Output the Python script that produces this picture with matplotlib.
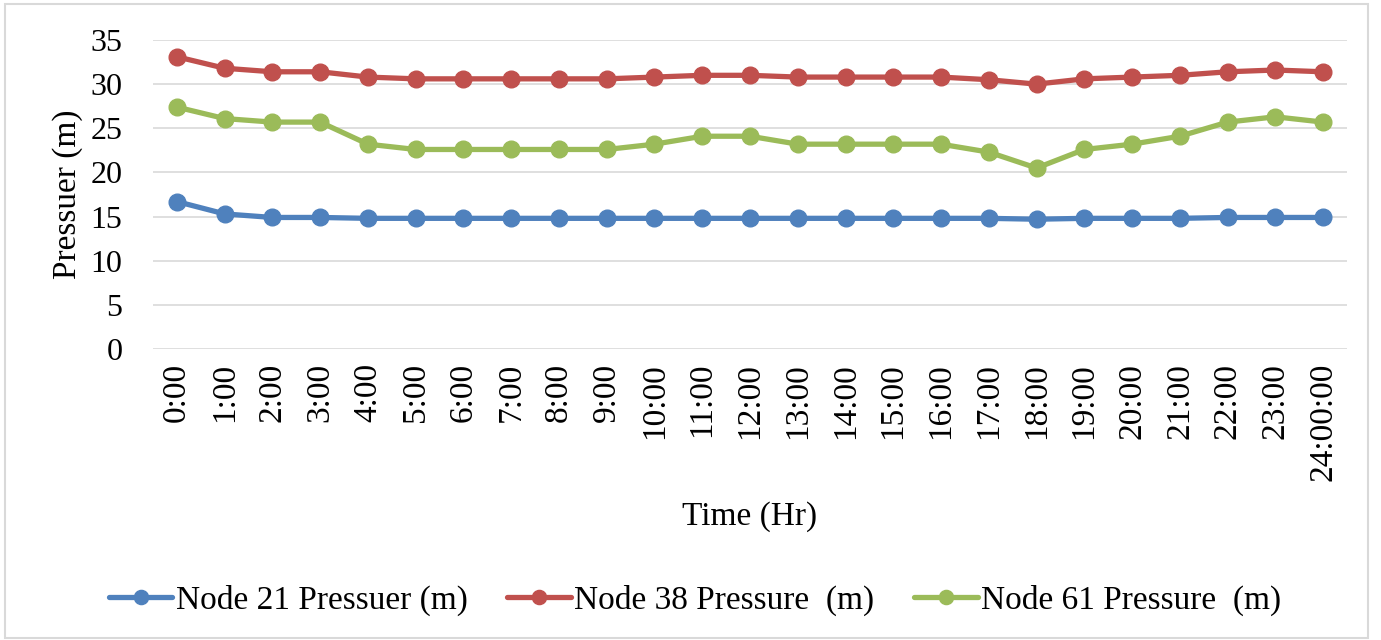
import matplotlib
matplotlib.use("Agg")
import matplotlib.pyplot as plt
from matplotlib.patches import Rectangle

times = ["0:00", "1:00", "2:00", "3:00", "4:00", "5:00", "6:00", "7:00", "8:00", "9:00",
         "10:00", "11:00", "12:00", "13:00", "14:00", "15:00", "16:00", "17:00", "18:00",
         "19:00", "20:00", "21:00", "22:00", "23:00", "24:00:00"]
node21 = [16.7, 15.3, 14.9, 14.9, 14.8, 14.8, 14.8, 14.8, 14.8, 14.8, 14.8, 14.8, 14.8,
          14.8, 14.8, 14.8, 14.8, 14.8, 14.7, 14.8, 14.8, 14.8, 14.9, 14.9, 14.9]
node38 = [33.1, 31.8, 31.4, 31.4, 30.8, 30.6, 30.6, 30.6, 30.6, 30.6, 30.8, 31.0, 31.0,
          30.8, 30.8, 30.8, 30.8, 30.5, 30.0, 30.6, 30.8, 31.0, 31.4, 31.6, 31.4]
node61 = [27.4, 26.1, 25.7, 25.7, 23.2, 22.6, 22.6, 22.6, 22.6, 22.6, 23.2, 24.1, 24.1,
          23.2, 23.2, 23.2, 23.2, 22.3, 20.5, 22.6, 23.2, 24.1, 25.7, 26.3, 25.7]
labels = ["Node 21 Pressuer (m)", "Node 38 Pressure  (m)", "Node 61 Pressure  (m)"]
colors = ["#4F81BD", "#C0504D", "#9BBB59"]
yticks = [0, 5, 10, 15, 20, 25, 30, 35]

plt.rcParams['font.family'] = ['Liberation Serif', 'DejaVu Serif']
FS = 24

W, H = 1381, 640
fig = plt.figure(figsize=(W / 100, H / 100), dpi=100)
fig.patches.append(Rectangle((5 / W, 2 / H), 1363 / W, 634 / H, transform=fig.transFigure,
                             fill=False, edgecolor="#D9D9D9", linewidth=1.5))

left, right = 153 / W, 1347 / W
bottom, top = 1 - 349 / H, 1 - 40 / H
ax = fig.add_axes([left, bottom, right - left, top - bottom])

x = list(range(len(times)))
for series, lab, c in zip([node21, node38, node61], labels, colors):
    ax.plot(x, series, color=c, linewidth=3.8, marker="o", markersize=12, label=lab,
            solid_capstyle="round")

ax.set_xlim(-0.5, len(times) - 0.5)
ax.set_ylim(0, 35)
ax.set_yticks(yticks)
ax.set_xticks(x)
ax.set_xticklabels(times, rotation=90, fontsize=FS)
ax.tick_params(axis="y", labelsize=FS - 1, length=0, pad=22)
ax.tick_params(axis="x", length=0, pad=10)
ax.grid(axis="y", color="#D9D9D9", linewidth=1.2)
ax.set_axisbelow(True)
for s in ax.spines.values():
    s.set_visible(False)

ax.set_ylabel("Pressuer (m)", fontsize=FS)
ax.yaxis.set_label_coords((83 - 153) / 1194, 0.5)
ax.set_xlabel("Time (Hr)", fontsize=FS)
ax.xaxis.set_label_coords(0.5, ((1 - 501 / H) - bottom) / (top - bottom))

leg = fig.legend(loc="center", bbox_to_anchor=(695 / W, 1 - 600 / H), ncol=3, frameon=False,
                 fontsize=FS, handlelength=1.9, columnspacing=1.2, handletextpad=0.1,
                 markerscale=0.85)

fig.savefig("out.png", dpi=100, facecolor="white")
